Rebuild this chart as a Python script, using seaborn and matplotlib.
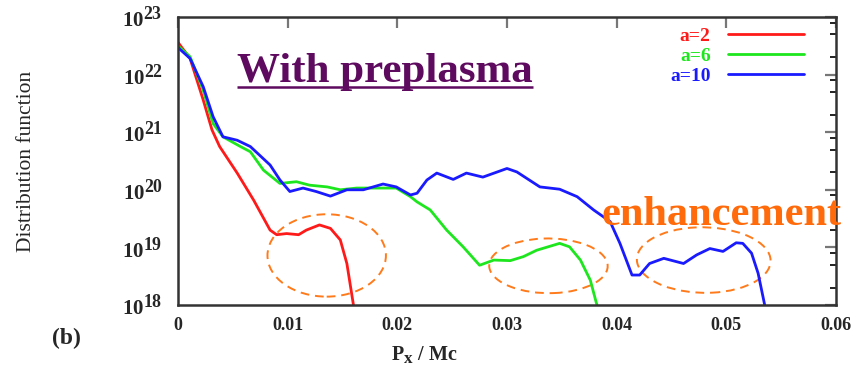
import numpy as np
import pandas as pd
import matplotlib
matplotlib.use("Agg")
import matplotlib.pyplot as plt
from matplotlib.patches import Ellipse
from matplotlib.ticker import LogLocator, FixedLocator, FuncFormatter, NullFormatter
import seaborn as sns

try:
    import matplotlib._mathtext as _mt
    _mt.SHRINK_FACTOR = 0.85
except Exception:
    pass

# ---------------- data ----------------
series_names = ["a=2", "a=6", "a=10"]
series_colors = ["#ff1a1a", "#1ee61e", "#1a1aff"]

x_a2 = [0.0, 0.0011, 0.0023, 0.0031, 0.0038, 0.0054, 0.0069, 0.0084, 0.0090,
        0.0099, 0.0110, 0.0117, 0.0129, 0.0139, 0.0148, 0.0154, 0.0160]
logy_a2 = [22.56, 22.28, 21.56, 21.04, 20.75, 20.29, 19.82, 19.30, 19.22,
           19.24, 19.22, 19.30, 19.39, 19.33, 19.13, 18.72, 18.0]

x_a6 = [0.0, 0.0011, 0.0023, 0.0032, 0.0041, 0.0057, 0.0066, 0.0078, 0.0093,
        0.0108, 0.0120, 0.0136, 0.0148, 0.0163, 0.0181, 0.0199, 0.0212, 0.0218,
        0.0230, 0.0245, 0.0260, 0.0275, 0.0288, 0.0303, 0.0315, 0.0327, 0.0348,
        0.0357, 0.0367, 0.0376, 0.0382]
logy_a6 = [22.50, 22.31, 21.73, 21.15, 20.92, 20.75, 20.66, 20.34, 20.11,
           20.14, 20.08, 20.05, 20.00, 20.03, 20.03, 20.03, 19.88, 19.79,
           19.65, 19.30, 19.01, 18.69, 18.78, 18.77, 18.84, 18.95, 19.07,
           19.01, 18.78, 18.43, 18.0]

x_a10 = [0.0, 0.0011, 0.0023, 0.0032, 0.0041, 0.0054, 0.0066, 0.0084, 0.0093,
         0.0102, 0.0114, 0.0126, 0.0139, 0.0154, 0.0169, 0.0187, 0.0199, 0.0212,
         0.0218, 0.0227, 0.0236, 0.0251, 0.0263, 0.0278, 0.0300, 0.0309, 0.0330,
         0.0348, 0.0364, 0.0379, 0.0394, 0.0403, 0.0414, 0.0421, 0.0430, 0.0443,
         0.0461, 0.0473, 0.0485, 0.0497, 0.0509, 0.0515, 0.0523, 0.0529, 0.0535]
logy_a10 = [22.47, 22.28, 21.79, 21.27, 20.92, 20.86, 20.75, 20.43, 20.17,
            19.97, 20.03, 19.97, 19.89, 20.00, 20.00, 20.10, 20.05, 19.91,
            19.94, 20.17, 20.29, 20.18, 20.29, 20.22, 20.37, 20.31, 20.05,
            20.01, 19.88, 19.65, 19.45, 19.07, 18.52, 18.52, 18.72, 18.81,
            18.72, 18.87, 18.98, 18.93, 19.08, 19.07, 18.90, 18.55, 18.0]

x_ticks = [0, 0.01, 0.02, 0.03, 0.04, 0.05, 0.06]
x_tick_labels = ["0", "0.01", "0.02", "0.03", "0.04", "0.05", "0.06"]
y_tick_exponents = [18, 19, 20, 21, 22, 23]

title_text = "With preplasma"
note_text = "enhancement"
panel_label = "(b)"
x_label = r"$\mathbf{P_x}$ / Mc"
y_label = "Distribution function"

# ---------------- build long-form table ----------------
frames = []
for name, xs, ly in zip(series_names, [x_a2, x_a6, x_a10], [logy_a2, logy_a6, logy_a10]):
    frames.append(pd.DataFrame({"px": xs, "f": np.power(10.0, ly), "series": name}))
df = pd.concat(frames, ignore_index=True)

# ---------------- style ----------------
sns.set_theme(style="white")
plt.rcParams["font.family"] = ["Liberation Serif", "DejaVu Serif"]
plt.rcParams["mathtext.fontset"] = "custom"
plt.rcParams["mathtext.rm"] = "Liberation Serif:bold"
plt.rcParams["mathtext.bf"] = "Liberation Serif:bold"
plt.rcParams["mathtext.it"] = "Liberation Serif:bold:italic"

fig = plt.figure(figsize=(8.59, 3.66), dpi=100)
ax = fig.add_axes([0.2072, 0.1667, 0.766, 0.7869])

sns.lineplot(data=df, x="px", y="f", hue="series", hue_order=series_names,
             palette=series_colors, estimator=None, sort=False, lw=2.0,
             ax=ax, legend=False)

ax.set_yscale("log")
ax.set_xlim(0, 0.06)
ax.set_ylim(1e18, 1e23)

# ticks
ax.xaxis.set_major_locator(FixedLocator(x_ticks))
ax.set_xticklabels(x_tick_labels)
ax.yaxis.set_major_locator(FixedLocator([10.0 ** e for e in y_tick_exponents]))
ax.yaxis.set_major_formatter(FuncFormatter(lambda v, p: r"$\mathbf{10^{%d}}$" % round(np.log10(v))))
ax.yaxis.set_minor_locator(LogLocator(base=10, subs=[2, 5, 8]))
ax.yaxis.set_minor_formatter(NullFormatter())
ax.tick_params(axis="both", which="major", direction="in", length=8, width=1.6,
               color="#777777", top=True, right=True, labelsize=13, pad=9)
ax.tick_params(axis="both", which="minor", direction="in", length=4.5, width=1.3,
               color="#111111", top=False, right=True)
ax.tick_params(axis="y", which="major", labelsize=15, pad=11)
for lab in ax.get_xticklabels():
    lab.set_fontweight("bold")

for s in ax.spines.values():
    s.set_color("#333333")
    s.set_linewidth(1.8)

ax.set_xlabel(x_label, fontsize=14.5, fontweight="bold")
ax.xaxis.set_label_coords(0.375, -0.135)
ax.set_ylabel(y_label, fontsize=15.5)
ax.yaxis.set_label_coords(-0.216, 0.5)

# legend (gnuplot style: right-aligned labels, sample line on the right)
handles = [plt.Line2D([], [], color=c, lw=2.0) for c in series_colors]
leg = ax.legend(handles, series_names, loc="upper right", frameon=False,
                bbox_to_anchor=(0.9514, 0.964), borderaxespad=0, borderpad=0,
                markerfirst=False, handlelength=3.9, handletextpad=0.9,
                labelspacing=0.13,
                prop={"family": "Liberation Serif", "weight": "bold", "size": 14},
                labelcolor="linecolor")
for t in leg.get_texts():
    t.set_ha("right")

# annotations
ax.text(0.00538, 10 ** 21.876, title_text, fontsize=31, fontweight="bold",
        color="#5e0a5e", va="baseline", ha="left")
ax.plot([0.00538, 0.0324], [10 ** 21.78, 10 ** 21.78], color="#5e0a5e", lw=1.8,
        solid_capstyle="butt")
ax.text(0.03866, 10 ** 19.39, note_text, fontsize=30.5, fontweight="bold",
        color="#ff6a0a", va="baseline", ha="left")

ellipses = [((0.226, 0.172), 0.180, 0.286, 0),
            ((0.563, 0.136), 0.180, 0.190, 5),
            ((0.799, 0.156), 0.203, 0.228, 6)]
for (cx, cy), w, h, ang in ellipses:
    ax.add_patch(Ellipse((cx, cy), w, h, angle=ang, transform=ax.transAxes,
                         fill=False, ec="#ff7a1a", lw=1.4, ls=(0, (4.5, 3))))

fig.text(66 / 859, 1 - 338 / 366, panel_label, fontsize=17, fontweight="bold",
         va="center", ha="center")

fig.savefig("out.png", dpi=100)
